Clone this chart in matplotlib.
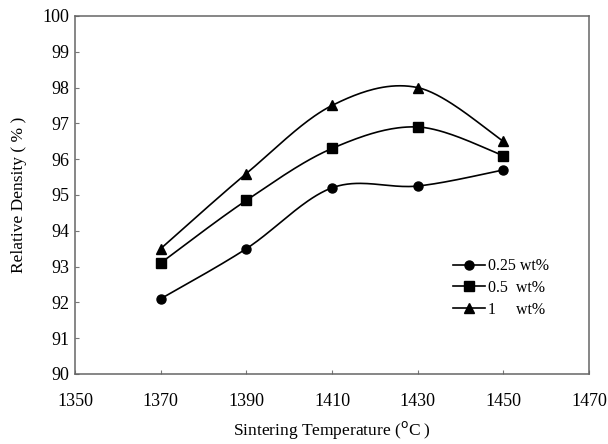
import numpy as np
import matplotlib
matplotlib.use('Agg')
import matplotlib.pyplot as plt

plt.rcParams['font.family'] = ['Liberation Serif', 'DejaVu Serif']

# datos
temp = [1370, 1390, 1410, 1430, 1450]
d025 = [92.1, 93.5, 95.2, 95.25, 95.7]
d05 = [93.1, 94.85, 96.3, 96.9, 96.1]
d1 = [93.5, 95.6, 97.5, 98.0, 96.5]
labels = ['0.25 wt%', '0.5  wt%', '1     wt%']
markers = ['o', 's', '^']


# curva suavizada tipo Excel (bezier con tangentes catmull-rom)
def suave(x, y, n=40):
    x = np.asarray(x, float)
    y = np.asarray(y, float)
    px = np.concatenate([[x[0]], x, [x[-1]]])
    py = np.concatenate([[y[0]], y, [y[-1]]])
    t = np.linspace(0, 1, n)
    xs, ys = [], []
    for i in range(1, len(px) - 2):
        p0 = np.array([px[i], py[i]])
        p3 = np.array([px[i + 1], py[i + 1]])
        p1 = p0 + (np.array([px[i + 1], py[i + 1]]) - np.array([px[i - 1], py[i - 1]])) / 6.
        p2 = p3 - (np.array([px[i + 2], py[i + 2]]) - np.array([px[i], py[i]])) / 6.
        b = ((1 - t) ** 3)[:, None] * p0 + (3 * (1 - t) ** 2 * t)[:, None] * p1 \
            + (3 * (1 - t) * t ** 2)[:, None] * p2 + (t ** 3)[:, None] * p3
        xs.append(b[:, 0])
        ys.append(b[:, 1])
    return np.concatenate(xs), np.concatenate(ys)


fig = plt.figure(figsize=(6.08, 4.44), dpi=100)
ax = fig.add_axes([0.1234, 0.1577, 0.8454, 0.8063])

for y, m, lab in zip([d025, d05, d1], markers, labels):
    ms = 6.5 if m == 'o' else 7
    xs, ys = suave(temp, y)
    ax.plot(xs, ys, color='black', lw=1.2)
    ax.plot(temp, y, linestyle='none', marker=m, color='black', ms=ms)
    ax.plot([], [], color='black', lw=1.2, marker=m, ms=ms, label=lab)

ax.set_xlim(1350, 1470)
ax.set_ylim(90, 100)
ax.set_xticks(np.arange(1350, 1471, 20))
ax.set_yticks(np.arange(90, 101, 1))
ax.tick_params(direction='in', length=3, width=0.8, color='#777777', labelsize=13)
ax.tick_params(axis='x', pad=14)
ax.tick_params(axis='y', pad=4)
for s in ax.spines.values():
    s.set_color('#666666')
    s.set_linewidth(1.1)

ax.set_xlabel('Sintering Temperature ($^{\\mathrm{o}}$C )', fontsize=12.5, labelpad=6)
ax.set_ylabel('Relative Density ( % )', fontsize=12.5, labelpad=11)

ax.legend(loc='upper left', bbox_to_anchor=(0.72, 0.345), frameon=False, fontsize=11.5,
          handlelength=2.0, handletextpad=0.2, labelspacing=0.35, borderpad=0)

plt.savefig('out.png', dpi=100)
